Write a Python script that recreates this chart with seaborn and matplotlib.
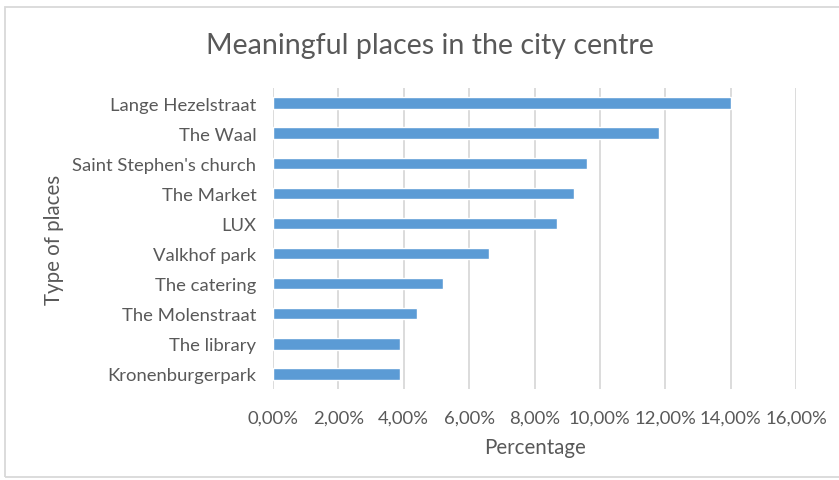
import matplotlib
matplotlib.use("Agg")
import matplotlib.pyplot as plt
import pandas as pd
import seaborn as sns
from matplotlib.patches import Rectangle
from matplotlib.ticker import FuncFormatter, MultipleLocator

PLACES = [
    "Lange Hezelstraat",
    "The Waal",
    "Saint Stephen's church",
    "The Market",
    "LUX",
    "Valkhof park",
    "The catering",
    "The Molenstraat",
    "The library",
    "Kronenburgerpark",
]
PERCENTAGES = [14.0, 11.8, 9.6, 9.2, 8.7, 6.6, 5.2, 4.4, 3.9, 3.9]

TEXT_COLOR = "#595959"
BAR_COLOR = "#5B9BD5"
GRID_COLOR = "#D9D9D9"

sns.set_theme(style="white")
plt.rcParams["font.family"] = ["Lato", "DejaVu Sans"]

df = pd.DataFrame({"place": PLACES, "pct": PERCENTAGES})

fig = plt.figure(figsize=(8.39, 4.81), dpi=100)
ax = fig.add_axes([273 / 839, 1 - 390 / 481, 523 / 839, 301 / 481])

sns.barplot(data=df, x="pct", y="place", orient="h", color=BAR_COLOR,
            width=0.38, saturation=1, ax=ax, zorder=3)

ax.set_xlim(0, 16)
ax.xaxis.set_major_locator(MultipleLocator(2))
ax.xaxis.set_major_formatter(FuncFormatter(lambda v, _: f"{v:.2f}%".replace(".", ",")))
ax.grid(axis="x", color=GRID_COLOR, linewidth=1.3, zorder=0)
ax.grid(axis="y", visible=False)
for side in ["top", "right", "bottom", "left"]:
    ax.spines[side].set_visible(False)
ax.tick_params(axis="both", length=0, colors=TEXT_COLOR, labelsize=13.3)
ax.tick_params(axis="x", pad=15)
ax.tick_params(axis="y", pad=12)

ax.set_xlabel("Percentage", color=TEXT_COLOR, fontsize=14.8, labelpad=8)
ax.set_ylabel("Type of places", color=TEXT_COLOR, fontsize=14.8, labelpad=6)
fig.text(430 / 839, 1 - 46 / 481, "Meaningful places in the city centre",
         ha="center", va="center", color=TEXT_COLOR, fontsize=20.6)

fig.patches.append(Rectangle((5 / 839, 3 / 481), 1.0, 1 - 11 / 481,
                             transform=fig.transFigure, fill=False,
                             edgecolor=GRID_COLOR, linewidth=1.3))

fig.savefig("out.png", dpi=100)
plt.close(fig)
